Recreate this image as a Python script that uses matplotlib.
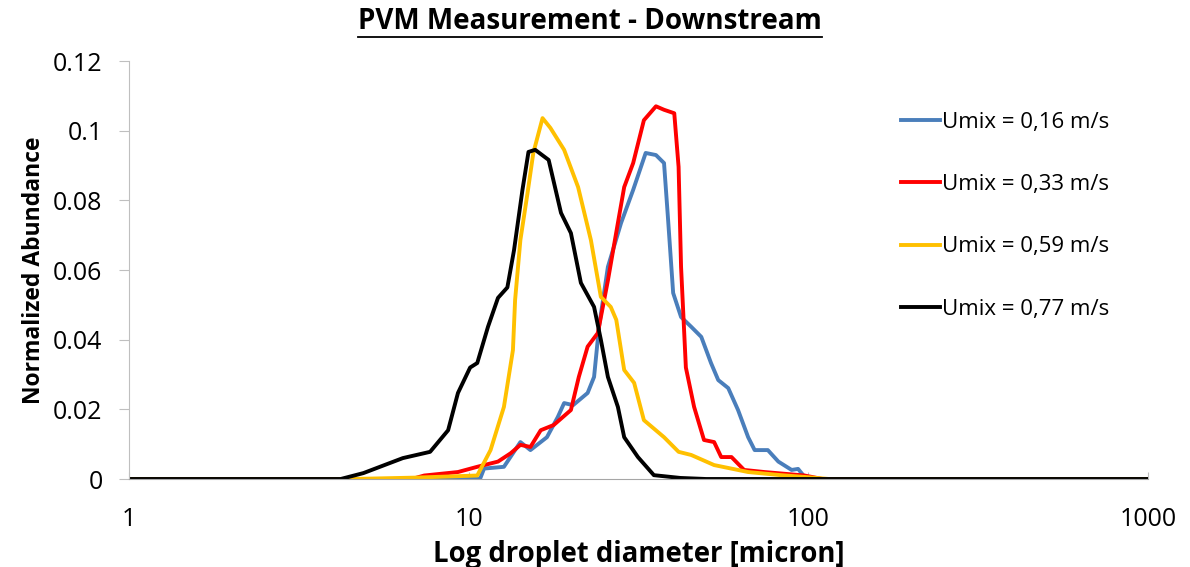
import matplotlib.pyplot as plt
from matplotlib.lines import Line2D
from matplotlib.ticker import FixedLocator, NullLocator

# droplet size distributions (diameter in micron, normalized abundance)
d_016 = [1, 10.8, 11.1, 12.7, 14.2, 15.2, 17.0, 18.3, 19.1, 20.3, 22.4, 23.4, 24.2, 25.7,
         28.1, 30.5, 33.2, 35.6, 37.6, 38.6, 40.0, 42.2, 45.2, 48.4, 51.7, 54.3, 58.1,
         62.1, 66.5, 69.5, 76.0, 81.6, 89.3, 93.3, 97.5, 105, 1000]
a_016 = [0, 0, 0.003, 0.0035, 0.0106, 0.0083, 0.012, 0.0178, 0.0218, 0.0212, 0.0247, 0.0293,
         0.0437, 0.0609, 0.0735, 0.083, 0.0936, 0.093, 0.0907, 0.0752, 0.0534, 0.0465,
         0.0437, 0.0408, 0.0333, 0.0284, 0.0261, 0.0198, 0.012, 0.0083, 0.0083, 0.005,
         0.0026, 0.0029, 0.0006, 0, 0]

d_033 = [1, 6.8, 7.4, 9.3, 10.6, 12.2, 13.3, 14.2, 15.2, 16.3, 17.8, 20.0, 21.1, 22.4, 24.0,
         25.7, 27.5, 28.7, 30.5, 32.8, 35.6, 37.6, 40.3, 41.5, 42.2, 43.6, 46.1, 49.3, 52.8,
         55.4, 59.4, 64.7, 74.2, 97.5, 110, 1000]
a_033 = [0, 0, 0.001, 0.002, 0.0035, 0.005, 0.0074, 0.0098, 0.0092, 0.014, 0.0155, 0.0198,
         0.0293, 0.038, 0.0419, 0.057, 0.0735, 0.0838, 0.0907, 0.103, 0.107, 0.106, 0.105,
         0.0896, 0.0609, 0.032, 0.0207, 0.0112, 0.0106, 0.0063, 0.0063, 0.0026, 0.002,
         0.001, 0, 0]

d_059 = [1, 4.5, 7.0, 10.6, 11.6, 12.7, 13.5, 13.7, 14.2, 14.9, 15.5, 16.5, 17.4, 19.1, 21.0,
         22.9, 24.5, 26.2, 27.2, 28.7, 30.7, 32.8, 37.6, 41.5, 45.2, 52.8, 66.5, 83.2, 100,
         115, 1000]
a_059 = [0, 0, 0.0004, 0.001, 0.0083, 0.0207, 0.037, 0.0514, 0.0686, 0.082, 0.0936, 0.1036,
         0.1008, 0.0945, 0.0838, 0.0686, 0.0523, 0.0494, 0.0457, 0.0313, 0.0276, 0.0169,
         0.012, 0.0078, 0.0069, 0.004, 0.002, 0.0011, 0.0005, 0, 0]

d_077 = [1, 4.2, 4.9, 6.4, 7.7, 8.7, 9.3, 10.1, 10.6, 11.4, 12.2, 13.0, 13.6, 14.4, 15.0,
         15.7, 17.2, 18.7, 20.0, 21.4, 23.4, 24.5, 25.7, 27.5, 28.7, 31.5, 35.1, 42, 50, 1000]
a_077 = [0, 0, 0.0017, 0.006, 0.0078, 0.014, 0.0247, 0.032, 0.0333, 0.0437, 0.052, 0.055,
         0.0657, 0.083, 0.0939, 0.0945, 0.0916, 0.0764, 0.0706, 0.0563, 0.0494, 0.040,
         0.0293, 0.0207, 0.012, 0.0063, 0.0011, 0.0003, 0, 0]

labels = ['Umix = 0,16 m/s', 'Umix = 0,33 m/s', 'Umix = 0,59 m/s', 'Umix = 0,77 m/s']
colors = ['#4A7EBB', '#FF0000', '#FFC000', '#000000']
series = [(d_016, a_016), (d_033, a_033), (d_059, a_059), (d_077, a_077)]

plt.rcParams['font.family'] = ['Open Sans', 'DejaVu Sans']

fig = plt.figure(figsize=(11.9, 5.67), dpi=100)
ax = fig.add_axes([0.1084, 0.1552, 0.8563, 0.7372])

for (d, a), lab, c in zip(series, labels, colors):
    ax.plot(d, a, color=c, lw=2.8, label=lab, solid_joinstyle='round')

ax.set_xscale('log')
ax.set_xlim(1, 1000)
ax.set_ylim(0, 0.12)
ax.xaxis.set_major_locator(FixedLocator([1, 10, 100, 1000]))
ax.xaxis.set_minor_locator(NullLocator())
ax.set_xticklabels(['1', '10', '100', '1000'])
ax.set_yticks([0, 0.02, 0.04, 0.06, 0.08, 0.1, 0.12])
ax.set_yticklabels(['0', '0.02', '0.04', '0.06', '0.08', '0.1', '0.12'])

for s in ['top', 'right']:
    ax.spines[s].set_visible(False)
ax.spines['left'].set_color('#BFBFBF')
ax.spines['bottom'].set_color('#A6A6A6')
ax.tick_params(axis='y', direction='out', length=7, color='#BFBFBF', labelsize=18, pad=12)
ax.tick_params(axis='x', direction='in', length=5, color='#BFBFBF', labelsize=18, pad=20)

ax.set_ylabel('Normalized Abundance', fontsize=16.5, fontweight='bold', labelpad=5)
ax.set_xlabel('Log droplet diameter [micron]', fontsize=19.8, fontweight='bold', labelpad=6)

leg = ax.legend(loc='upper left', bbox_to_anchor=(0.749, 0.9), frameon=False, fontsize=16,
                handlelength=1.75, handletextpad=0.1, labelspacing=1.86, borderaxespad=0)

title = fig.text(0.496, 0.962, 'PVM Measurement - Downstream', ha='center', va='center',
                 fontsize=20, fontweight='bold')

# underline the title
fig.canvas.draw()
bb = title.get_window_extent().transformed(fig.transFigure.inverted())
fig.add_artist(Line2D([bb.x0, bb.x1], [bb.y0 - 0.002, bb.y0 - 0.002], color='black', lw=1.3,
                      transform=fig.transFigure))

fig.savefig('out.png', dpi=100)
